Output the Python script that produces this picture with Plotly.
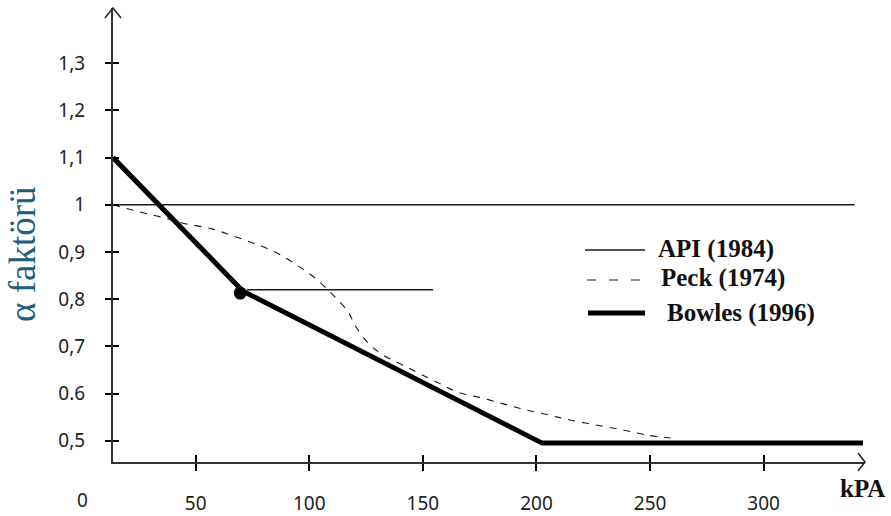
import plotly.graph_objects as go

# ---------------- data ----------------
x_tick_vals = [50, 100, 150, 200, 250, 300]
x_tick_text = ["50", "100", "150", "200", "250", "300"]
y_tick_vals = [0.5, 0.6, 0.7, 0.8, 0.9, 1.0, 1.1, 1.2, 1.3]
y_tick_text = ["0,5", "0.6", "0,7", "0,8", "0,9", "1", "1,1", "1,2", "1,3"]

api_x = [13.6, 340, None, 72.6, 154.5]
api_y = [1.0, 1.0, None, 0.82, 0.82]

peck_x = [13.6, 26.8, 36.5, 44.4, 57.2, 66.4, 75.2, 84.9, 94.6, 102.5, 110.4,
          117.1, 120.1, 125.9, 132.4, 141.3, 156.2, 165.5, 176.5, 187.0, 195.8,
          205.9, 214.7, 226.6, 238.1, 248.7, 259.0]
peck_y = [1.0, 0.983, 0.972, 0.961, 0.949, 0.934, 0.919, 0.900, 0.872, 0.845, 0.809,
          0.773, 0.745, 0.707, 0.682, 0.660, 0.624, 0.603, 0.590, 0.576, 0.565,
          0.554, 0.544, 0.533, 0.523, 0.512, 0.506]

bowles_x = [13.6, 70.8, 202.5, 343.7]
bowles_y = [1.10, 0.817, 0.495, 0.495]

dot_x = [69.6]
dot_y = [0.813]

X_RANGE = [13.6, 344.6]
Y_RANGE = [0.455, 1.417]

# ---------------- layout geometry (pixels) ----------------
W, H = 891, 516
L, R, T, B = 113, 26, 8, 54
PW, PH = W - L - R, H - T - B


def px(xp):
    return (xp - L) / PW


def py(yp):
    return (H - B - yp) / PH


def data_to_paper_x(v):
    return (v - X_RANGE[0]) / (X_RANGE[1] - X_RANGE[0])


LINE = "#1a1a1a"
TICKFONT = dict(family="Noto Sans", size=19, color="#222222")
SERIF = "Liberation Serif"

fig = go.Figure()

fig.add_trace(go.Scatter(x=api_x, y=api_y, mode="lines", name="API (1984)",
                         line=dict(color=LINE, width=1.4), showlegend=False,
                         hoverinfo="skip"))
fig.add_trace(go.Scatter(x=peck_x, y=peck_y, mode="lines", name="Peck (1974)",
                         line=dict(color=LINE, width=1.1, dash="7px,7px", shape="spline"),
                         showlegend=False, hoverinfo="skip"))
fig.add_trace(go.Scatter(x=bowles_x, y=bowles_y, mode="lines", name="Bowles (1996)",
                         line=dict(color="#000000", width=5), showlegend=False,
                         hoverinfo="skip"))
fig.add_trace(go.Scatter(x=dot_x, y=dot_y, mode="markers",
                         marker=dict(color="#000000", size=13), showlegend=False,
                         hoverinfo="skip"))
# dummy trace so the overlay axes (for crossing ticks) are drawn
fig.add_trace(go.Scatter(x=[None], y=[None], xaxis="x2", yaxis="y2",
                         showlegend=False, hoverinfo="skip"))

axis_common = dict(showgrid=False, zeroline=False, tickcolor="#000000", tickwidth=1.5,
                   automargin=False)

fig.update_layout(
    width=W, height=H,
    margin=dict(l=L, r=R, t=T, b=B),
    paper_bgcolor="white", plot_bgcolor="white",
    xaxis=dict(range=X_RANGE, tickvals=x_tick_vals, ticktext=x_tick_text,
               ticks="outside", ticklen=7, showline=True, linecolor="#333333",
               linewidth=2, tickfont=TICKFONT, ticklabelstandoff=16, **axis_common),
    yaxis=dict(range=Y_RANGE, tickvals=y_tick_vals, ticktext=y_tick_text,
               ticks="outside", ticklen=6, showline=True, linecolor="#333333",
               linewidth=2, tickfont=TICKFONT, ticklabelstandoff=16, **axis_common),
    xaxis2=dict(range=X_RANGE, overlaying="x", anchor="y2", side="bottom",
                tickvals=x_tick_vals, ticks="inside", ticklen=7,
                showticklabels=False, showline=False, **axis_common),
    yaxis2=dict(range=Y_RANGE, overlaying="y", anchor="x2", side="left",
                tickvals=y_tick_vals, ticks="inside", ticklen=6,
                showticklabels=False, showline=False, **axis_common),
)

shapes = []
# axis arrow heads
shapes.append(dict(type="path", xref="paper", yref="paper", xsizemode="pixel",
                   ysizemode="pixel", xanchor=0, yanchor=1,
                   path="M-8,-10 L0,0 L8,-10", line=dict(color="#222222", width=1.5)))
shapes.append(dict(type="path", xref="paper", yref="paper", xsizemode="pixel",
                   ysizemode="pixel", xanchor=1, yanchor=0,
                   path="M-7,9 L0,0 L-7,-9", line=dict(color="#222222", width=1.5)))
# legend sample lines
shapes.append(dict(type="line", xref="paper", yref="paper", x0=px(585), x1=px(645),
                   y0=py(250), y1=py(250), line=dict(color=LINE, width=1.4)))
shapes.append(dict(type="line", xref="paper", yref="paper", x0=px(587), x1=px(645),
                   y0=py(280), y1=py(280), line=dict(color=LINE, width=1.2, dash="9px,13px")))
shapes.append(dict(type="line", xref="paper", yref="paper", x0=px(588), x1=px(645),
                   y0=py(313), y1=py(313), line=dict(color="#000000", width=5)))
fig.update_layout(shapes=shapes)

legend_font = dict(family=SERIF, size=25, color="#111111")
annotations = [
    dict(text="<b>API (1984)</b>", x=px(656), y=py(249), xanchor="left", yanchor="middle"),
    dict(text="<b>Peck (1974)</b>", x=px(659), y=py(278), xanchor="left", yanchor="middle"),
    dict(text="<b>Bowles (1996)</b>", x=px(665), y=py(313), xanchor="left", yanchor="middle"),
]
for a in annotations:
    a.update(xref="paper", yref="paper", showarrow=False, font=legend_font)

annotations.append(dict(text="<b>kPA</b>", xref="paper", yref="paper", x=px(862), y=py(489),
                        xanchor="center", yanchor="middle", showarrow=False,
                        font=dict(family=SERIF, size=25, color="#111111")))
annotations.append(dict(text="0", xref="paper", yref="paper", x=data_to_paper_x(0), y=py(500),
                        xanchor="center", yanchor="middle", showarrow=False, font=TICKFONT))
annotations.append(dict(text="α faktörü", xref="paper", yref="paper", x=px(22), y=py(255),
                        xanchor="center", yanchor="middle", showarrow=False, textangle=-90,
                        borderpad=0,
                        font=dict(family=SERIF, size=37, color="#215e7c")))
fig.update_layout(annotations=annotations)

fig.write_html("out.html")
